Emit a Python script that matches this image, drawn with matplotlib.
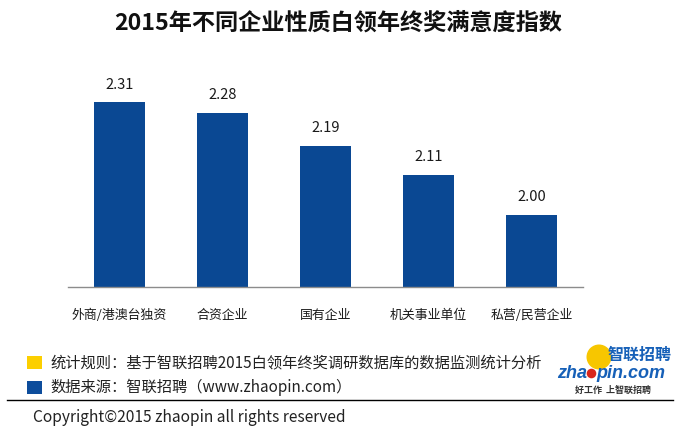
import matplotlib
matplotlib.use('Agg')
import matplotlib.pyplot as plt
from matplotlib.patches import Rectangle, Circle

plt.rcParams['font.family'] = ['Noto Sans CJK SC', 'DejaVu Sans']

categories = ['外商/港澳台独资', '合资企业', '国有企业', '机关事业单位', '私营/民营企业']
values = [2.31, 2.28, 2.19, 2.11, 2.00]
value_labels = ['2.31', '2.28', '2.19', '2.11', '2.00']

title = '2015年不同企业性质白领年终奖满意度指数'
note_rule = '统计规则：基于智联招聘2015白领年终奖调研数据库的数据监测统计分析'
note_source = '数据来源：智联招聘（www.zhaopin.com）'
copyright_text = 'Copyright©2015 zhaopin all rights reserved'

BAR_COLOR = '#0a4893'
W, H = 681, 431
fig = plt.figure(figsize=(W / 100, H / 100), dpi=100)
fig.patch.set_facecolor('white')

# main chart axes
ax_left, ax_right = 68 / W, 583 / W
ax = fig.add_axes([ax_left, (H - 288) / H, ax_right - ax_left, 217.2 / H])
xs = list(range(len(categories)))
ax.bar(xs, values, width=0.5, color=BAR_COLOR, zorder=2)
ax.set_xlim(-0.5, len(categories) - 0.5)
ax.set_ylim(1.8, 2.4)
for s in ['top', 'right', 'left']:
    ax.spines[s].set_visible(False)
ax.spines['bottom'].set_color('#8c8c8c')
ax.spines['bottom'].set_linewidth(1.0)
ax.set_yticks([])
ax.set_xticks(xs)
ax.set_xticklabels(categories, fontsize=9.3, color='#1a1a1a')
ax.tick_params(axis='x', length=0, pad=15)
for xi, v, lab in zip(xs, values, value_labels):
    ax.annotate(lab, (xi, v), xytext=(0, 13.5), textcoords='offset points',
                ha='center', va='center', fontsize=10.5, color='#1a1a1a')

# overlay for title / footer in pixel coordinates
ov = fig.add_axes([0, 0, 1, 1], zorder=3)
ov.set_xlim(0, W)
ov.set_ylim(H, 0)
ov.axis('off')
ov.patch.set_alpha(0)

ov.text(338.5, 23, title, ha='center', va='center', fontsize=16.7, fontweight='heavy', color='#111111')

ov.add_patch(Rectangle((27, 357), 15, 12.5, color='#fccf00', lw=0))
ov.add_patch(Rectangle((27, 381.5), 15, 13, color='#0d4d9c', lw=0))
ov.text(50.5, 362.5, note_rule, va='center', ha='left', fontsize=11, color='#222222')
ov.text(50.5, 387.7, note_source, va='center', ha='left', fontsize=11, color='#222222')
ov.plot([7, 673], [401, 401], color='black', lw=1.0)
ov.text(33, 417.5, copyright_text, va='center', ha='left', fontsize=11.2, color='#222222')

# logo
LOGO_BLUE = '#1660b8'
ov.add_patch(Circle((599, 358), 12.5, color='#f7c600', lw=0))
ov.text(672, 355, '智联招聘', ha='right', va='center', fontsize=11.5, fontweight='bold', color=LOGO_BLUE)
ov.text(587, 374, 'zha', ha='right', va='center', fontsize=13, fontweight='bold', style='italic',
        family='Liberation Sans', color=LOGO_BLUE)
ov.add_patch(Circle((591.5, 374.5), 4.8, color='#d9261c', lw=0))
ov.text(596, 374, 'pin.com', ha='left', va='center', fontsize=13, fontweight='bold', style='italic',
        family='Liberation Sans', color=LOGO_BLUE)
ov.text(613, 390.5, '好工作  上智联招聘', ha='center', va='center', fontsize=6.5, fontweight='bold', color='#333333')

fig.savefig('out.png', dpi=100, facecolor='white')
